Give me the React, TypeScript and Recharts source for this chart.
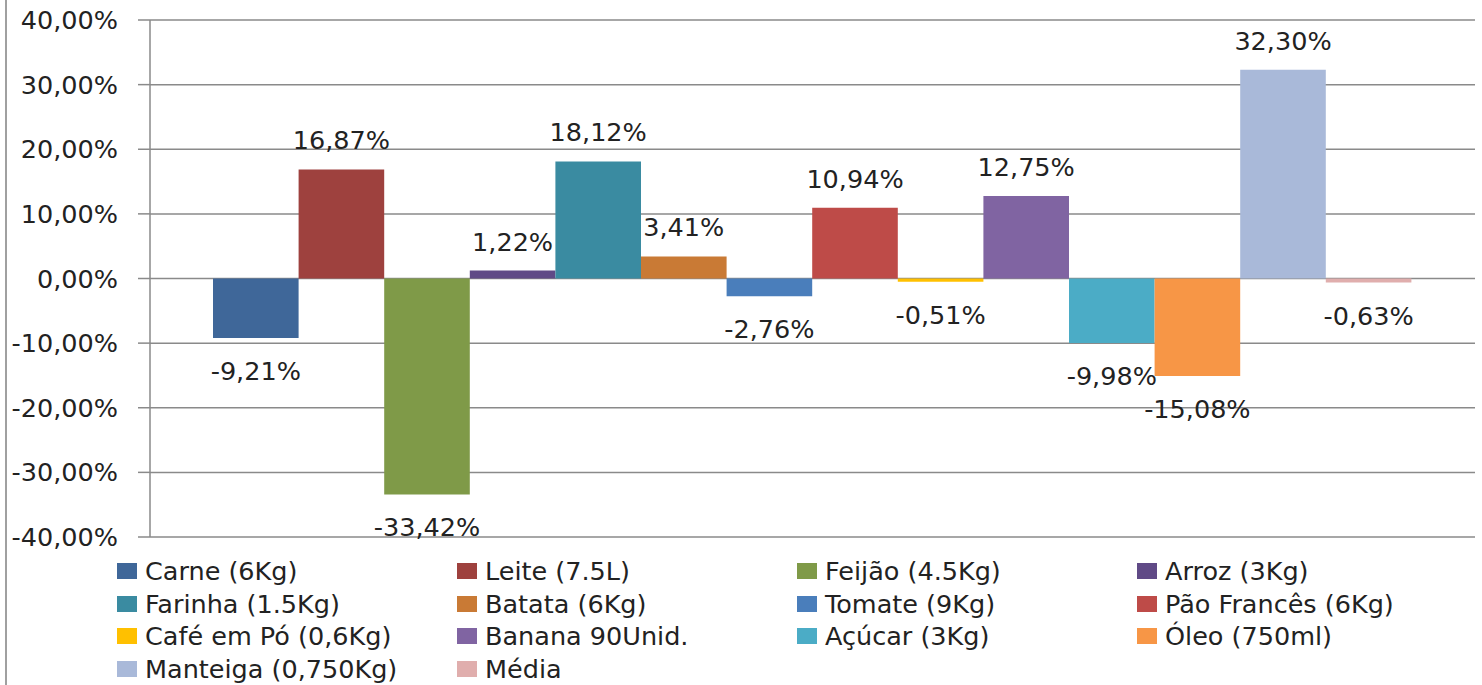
import React from 'react';
import { BarChart, Bar, XAxis, YAxis, CartesianGrid, LabelList } from 'recharts';

const categories = ['Variação'];
const seriesNames = [
  'Carne (6Kg)', 'Leite (7.5L)', 'Feijão (4.5Kg)', 'Arroz (3Kg)',
  'Farinha (1.5Kg)', 'Batata (6Kg)', 'Tomate (9Kg)', 'Pão Francês (6Kg)',
  'Café em Pó (0,6Kg)', 'Banana 90Unid.', 'Açúcar (3Kg)', 'Óleo (750ml)',
  'Manteiga (0,750Kg)', 'Média',
];
const seriesValues = [
  -9.21, 16.87, -33.42, 1.22, 18.12, 3.41, -2.76, 10.94, -0.51, 12.75, -9.98, -15.08, 32.3, -0.63,
];
const seriesColors = [
  '#3F6799', '#9E413E', '#7F9A48', '#604A86', '#3A8BA1', '#C97A35', '#4A7EBB', '#BE4B48',
  '#FFC000', '#8064A2', '#4BACC6', '#F79646', '#A9B9D9', '#E0AEAD',
];
const yTicks = [-40, -30, -20, -10, 0, 10, 20, 30, 40];

const FONT = '"DejaVu Sans", sans-serif';
const FS = 25.5;
const fmt = (v: number) => v.toFixed(2).replace('.', ',') + '%';

const data = categories.map((c) => {
  const row: Record<string, any> = { category: c };
  seriesValues.forEach((v, i) => { row['s' + i] = v; });
  return row;
});

const renderLabel = (props: any) => {
  const { x, y, width, height, value } = props;
  const top = Math.min(y, y + height);
  const bottom = Math.max(y, y + height);
  const cy = value >= 0 ? top - 29 : bottom + 33;
  return (
    <text x={x + width / 2} y={cy} textAnchor="middle" dominantBaseline="central"
      fontFamily={FONT} fontSize={FS} fill="#222">
      {fmt(value)}
    </text>
  );
};

export default function App() {
  return (
    <div style={{ position: 'absolute', left: 0, top: 0, width: 1482, height: 685, background: '#fff', overflow: 'hidden' }}>
      <div style={{ position: 'absolute', left: 5, top: 0, width: 2, height: 685, background: '#a0a0a0' }} />
      <BarChart width={1482} height={685} data={data}
        margin={{ top: 20, right: 7, left: 0, bottom: 148 }} barGap={0}>
        <CartesianGrid horizontal vertical={false} stroke="#8a8a8a" strokeWidth={1.5} />
        <XAxis dataKey="category" hide />
        <YAxis width={150} domain={[-40, 40]} ticks={yTicks} tickFormatter={fmt}
          axisLine={{ stroke: '#8a8a8a', strokeWidth: 1.5 }} tickLine={{ stroke: '#8a8a8a', strokeWidth: 1.5 }}
          tickSize={12} tickMargin={20} interval={0}
          tick={{ fontFamily: FONT, fontSize: FS, fill: '#222' }} />
        {seriesNames.map((n, i) => (
          <Bar key={n} dataKey={'s' + i} name={n} fill={seriesColors[i]} barSize={85.6} isAnimationActive={false}>
            <LabelList dataKey={'s' + i} content={renderLabel} />
          </Bar>
        ))}
      </BarChart>
      {seriesNames.map((n, i) => {
        const col = i % 4;
        const row = Math.floor(i / 4);
        return (
          <div key={n} style={{ position: 'absolute', left: 117 + col * 340, top: 571 + row * 32.5 - 16,
            height: 32, display: 'flex', alignItems: 'center', fontFamily: FONT, fontSize: FS, color: '#222', whiteSpace: 'nowrap' }}>
            <span style={{ display: 'inline-block', width: 20, height: 16, background: seriesColors[i], marginRight: 8 }} />
            {n}
          </div>
        );
      })}
    </div>
  );
}
